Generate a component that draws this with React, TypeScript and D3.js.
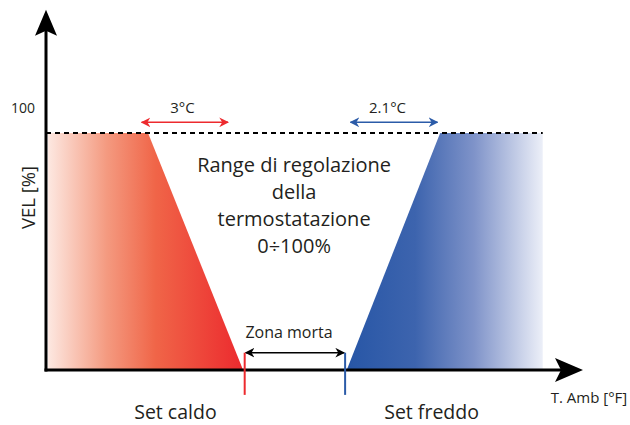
import * as d3 from "d3";

// schematic temperature axis (arbitrary units), VEL in %
const heatCurve: [number, number][] = [
  [0.4, 0],
  [0.4, 100],
  [19, 100],
  [36.7, 0],
];
const coolCurve: [number, number][] = [
  [56, 0],
  [73.4, 100],
  [92.5, 100],
  [92.5, 0],
];
const heatBand = [17.8, 33.9];
const coolBand = [56.7, 72.9];
const bandLabels = ["3°C", "2.1°C"];
const bandLabelT = [25.4, 63.6];
const deadZone = [37, 55.7];
const setPoints = [
  { t: 37, label: "Set caldo", color: "#ed2a2e", labelT: 24.1 },
  { t: 55.7, label: "Set freddo", color: "#2b5ba8", labelT: 71.8 },
];
const rangeLines = ["Range di regolazione", "della", "termostatazione", "0÷100%"];

const W = 630;
const H = 425;
const FONT = "'Open Sans', 'Noto Sans', sans-serif";
const TXT = "#231f20";

export default function App() {
  const x = d3.scaleLinear().domain([0, 100]).range([46, 583]);
  const y = d3.scaleLinear().domain([0, 100]).range([370, 133]);
  const area = d3
    .line<[number, number]>()
    .x((d) => x(d[0]))
    .y((d) => y(d[1]));

  const yTop = 152;
  const xEnd = 100;
  const colors = ["#ed2a2e", "#2b5ba8"];
  const markers = ["ah-red", "ah-blue"];

  return (
    <svg width={W} height={H} style={{ position: "absolute", left: 0, top: 0, fontFamily: FONT }}>
      <defs>
        <linearGradient id="heat" x1="0" x2="1" y1="0" y2="0">
          <stop offset="0" stopColor="#fde8e1" />
          <stop offset="0.3" stopColor="#f49a80" />
          <stop offset="0.55" stopColor="#f06548" />
          <stop offset="1" stopColor="#ec2a2e" />
        </linearGradient>
        <linearGradient id="cool" x1="0" x2="1" y1="0" y2="0">
          <stop offset="0" stopColor="#2756a6" />
          <stop offset="0.35" stopColor="#3d64ae" />
          <stop offset="0.65" stopColor="#7f93c9" />
          <stop offset="1" stopColor="#eceff8" />
        </linearGradient>
        {[...colors, "#000"].map((c, i) => (
          <marker
            key={c}
            id={i < 2 ? markers[i] : "ah-black"}
            viewBox="0 0 10 10"
            refX="9"
            refY="5"
            markerWidth="6.5"
            markerHeight="6.5"
            orient="auto-start-reverse"
          >
            <path d="M0,0 L10,5 L0,10 L3,5 Z" fill={c} />
          </marker>
        ))}
      </defs>

      {/* ramps */}
      <path d={area(heatCurve) + "Z"} fill="url(#heat)" />
      <path d={area(coolCurve) + "Z"} fill="url(#cool)" />

      {/* 100% dashed line */}
      <line
        x1={x(0)}
        x2={x(92.5)}
        y1={y(100)}
        y2={y(100)}
        stroke="#000"
        strokeWidth={2}
        strokeDasharray="5 4"
      />

      {/* band arrows */}
      {[heatBand, coolBand].map((b, i) => (
        <g key={i}>
          <line
            x1={x(b[0])}
            x2={x(b[1])}
            y1={y(104.5)}
            y2={y(104.5)}
            stroke={colors[i]}
            strokeWidth={1.5}
            markerStart={`url(#${markers[i]})`}
            markerEnd={`url(#${markers[i]})`}
          />
          <text x={x(bandLabelT[i])} y={y(108.4)} textAnchor="middle" fontSize={15} fill={TXT}>
            {bandLabels[i]}
          </text>
        </g>
      ))}

      {/* dead zone */}
      <line
        x1={x(deadZone[0]) + 1}
        x2={x(deadZone[1]) - 1}
        y1={y(7.3)}
        y2={y(7.3)}
        stroke="#000"
        strokeWidth={1.5}
        markerStart="url(#ah-black)"
        markerEnd="url(#ah-black)"
      />
      <text x={x(45.25)} y={y(13.5)} textAnchor="middle" fontSize={16} fill={TXT}>
        Zona morta
      </text>

      {/* axes */}
      <line x1={x(0)} x2={x(0)} y1={y(0) + 1.5} y2={y(yTop) + 20} stroke="#000" strokeWidth={3} />
      <path
        d={`M${x(0)},${y(yTop)} L${x(0) + 11},${y(yTop) + 26} L${x(0)},${y(yTop) + 21} L${x(0) - 11},${y(yTop) + 26} Z`}
        fill="#000"
      />
      <line x1={x(0) - 1.5} x2={x(xEnd) - 20} y1={y(0)} y2={y(0)} stroke="#000" strokeWidth={3} />
      <path
        d={`M${x(xEnd)},${y(0)} L${x(xEnd) - 28},${y(0) - 12} L${x(xEnd) - 22},${y(0)} L${x(xEnd) - 28},${y(0) + 12} Z`}
        fill="#000"
      />

      {/* set points */}
      {setPoints.map((s) => (
        <g key={s.label}>
          <line x1={x(s.t)} x2={x(s.t)} y1={y(7.3)} y2={y(-10.5)} stroke={s.color} strokeWidth={2} />
          <text x={x(s.labelT)} y={419} textAnchor="middle" fontSize={19.5} fill={TXT}>
            {s.label}
          </text>
        </g>
      ))}

      {/* labels */}
      <text x={23} y={y(108.5)} textAnchor="middle" fontSize={14} fill={TXT}>
        100
      </text>
      <text
        transform={`translate(35,197.5) rotate(-90)`}
        textAnchor="middle"
        fontSize={18.5}
        fill={TXT}
      >
        VEL [%]
      </text>
      <text x={589} y={y(-13.9)} textAnchor="middle" fontSize={15} fill={TXT}>
        T. Amb [°F]
      </text>
      {rangeLines.map((l, i) => (
        <text key={l} x={x(46.2)} y={y(83.5) + i * 26.8} textAnchor="middle" fontSize={20} fill={TXT}>
          {l}
        </text>
      ))}
    </svg>
  );
}
